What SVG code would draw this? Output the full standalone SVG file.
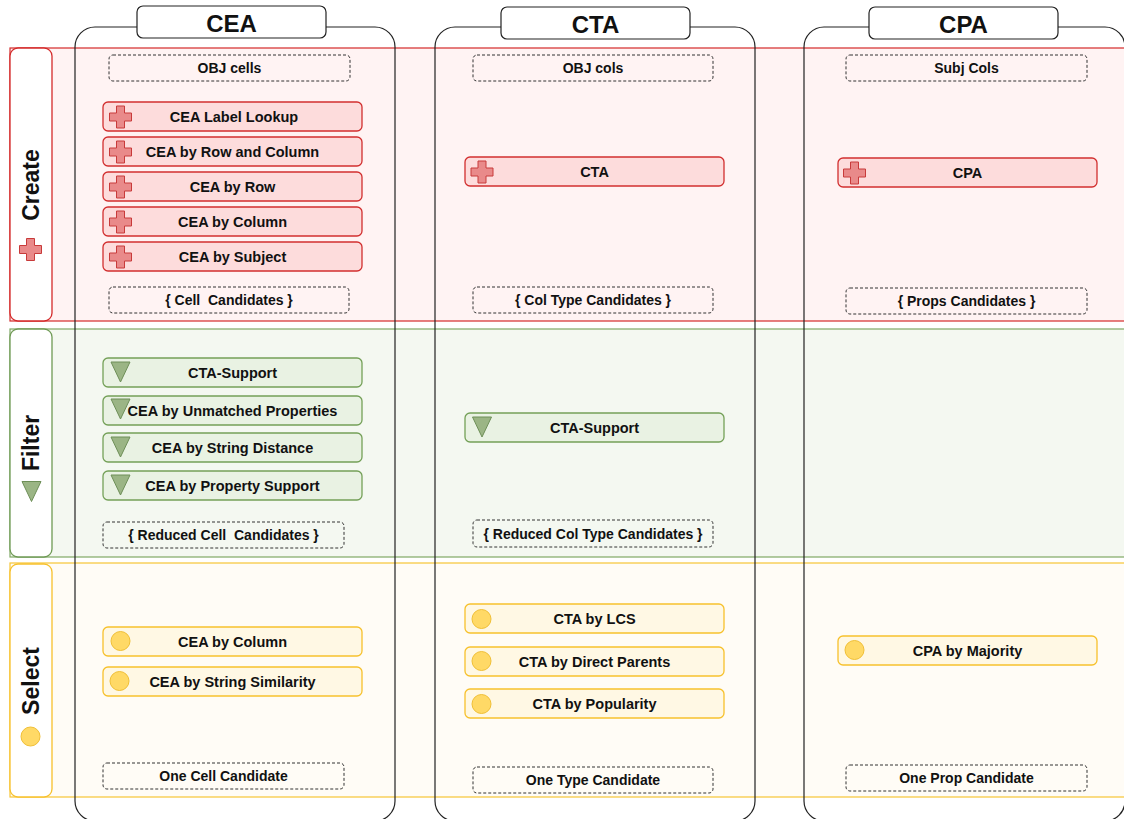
<svg xmlns="http://www.w3.org/2000/svg" xmlns:xlink="http://www.w3.org/1999/xlink" width="1124" height="819" viewBox="0 0 1124 819">
<style>
text{font-family:"Liberation Sans",Arial,sans-serif;font-weight:bold;fill:#111;text-anchor:middle;dominant-baseline:central}
.hdr{font-size:24px}
.lane{font-size:23px}
.m{font-size:14.5px}
.d{font-size:14px}
.col{fill:none;stroke:#222;stroke-width:1.2}
.hbox{fill:#fff;stroke:#222;stroke-width:1.2}
.dash{fill:none;stroke:#333;stroke-width:1;stroke-dasharray:3 2}
.red{fill:#fddcdc;stroke:#d22f2f;stroke-width:1.3}
.grn{fill:#e9f2e3;stroke:#74a058;stroke-width:1.3}
.yel{fill:#fff8e4;stroke:#f7c12c;stroke-width:1.3}
.iplus{fill:#e98a8a;stroke:#c83a3a;stroke-width:1}
.itri{fill:#9bb585;stroke:#6e8f58;stroke-width:1}
.icir{fill:#ffd966;stroke:#f0bf36;stroke-width:1}
</style>
<defs>
<path id="plus" d="M-4,-11 H4 V-4 H11 V4 H4 V11 H-4 V4 H-11 V-4 H-4 Z"/>
<path id="tri" d="M-9.5,-10 L9.5,-10 L0,10 Z"/>
<circle id="cir" r="9.5"/>
</defs>
<rect width="1124" height="819" fill="#fff"/>

<!-- lanes -->
<g id="lane-create">
<rect x="10" y="48" width="1124" height="273" fill="#fff3f3" stroke="#d42a2a" stroke-width="1.2"/>
<rect x="10" y="48" width="42" height="273" rx="8" fill="#fff" stroke="#d42a2a" stroke-width="1.3"/>
<text class="lane" transform="translate(31,185) rotate(-90)">Create</text>
<use href="#plus" x="30.5" y="249.5" class="iplus"/>
</g>
<g id="lane-filter">
<rect x="10" y="329" width="1124" height="228" fill="#f4f8f1" stroke="#7fa865" stroke-width="1.2"/>
<rect x="10" y="329" width="42" height="228" rx="8" fill="#fff" stroke="#6f9a55" stroke-width="1.3"/>
<text class="lane" transform="translate(31,443) rotate(-90)">Filter</text>
<use href="#tri" x="31.5" y="491.5" class="itri"/>
</g>
<g id="lane-select">
<rect x="10" y="563" width="1124" height="234" fill="#fffcf6" stroke="#f7c535" stroke-width="1.2"/>
<rect x="10" y="564" width="42" height="233" rx="8" fill="#fff" stroke="#f7c12c" stroke-width="1.3"/>
<text class="lane" transform="translate(31,681) rotate(-90)">Select</text>
<use href="#cir" x="30.5" y="736.5" class="icir"/>
</g>

<!-- columns -->
<g id="col-cea">
<rect class="col" x="75" y="27" width="320" height="794" rx="20"/>
<rect class="hbox" x="137" y="6" width="189" height="32" rx="6"/>
<text class="hdr" x="231.5" y="23">CEA</text>
</g>
<g id="col-cta">
<rect class="col" x="435" y="27" width="320" height="794" rx="20"/>
<rect class="hbox" x="501" y="7" width="189" height="32" rx="6"/>
<text class="hdr" x="595.5" y="24">CTA</text>
</g>
<g id="col-cpa">
<rect class="col" x="804" y="27" width="321" height="794" rx="20"/>
<rect class="hbox" x="869" y="7" width="189" height="32" rx="6"/>
<text class="hdr" x="963.5" y="24">CPA</text>
</g>

<!-- CEA nodes -->
<g id="cea-in"><rect class="dash" x="109" y="55" width="241" height="26" rx="4"/><text class="d" x="229.5" y="68">OBJ cells</text></g>
<g id="cea-c1"><rect class="red" x="103" y="102" width="259" height="29" rx="5"/><use href="#plus" x="120.5" y="117" class="iplus"/><text class="m" x="234" y="116.5">CEA Label Lookup</text></g>
<g id="cea-c2"><rect class="red" x="103" y="137" width="259" height="29" rx="5"/><use href="#plus" x="120.5" y="152" class="iplus"/><text class="m" x="232.5" y="151.5">CEA by Row and Column</text></g>
<g id="cea-c3"><rect class="red" x="103" y="172" width="259" height="29" rx="5"/><use href="#plus" x="120.5" y="187" class="iplus"/><text class="m" x="232.5" y="187">CEA by Row</text></g>
<g id="cea-c4"><rect class="red" x="103" y="207" width="259" height="29" rx="5"/><use href="#plus" x="120.5" y="222" class="iplus"/><text class="m" x="232.5" y="222">CEA by Column</text></g>
<g id="cea-c5"><rect class="red" x="103" y="242" width="259" height="29" rx="5"/><use href="#plus" x="120.5" y="257" class="iplus"/><text class="m" x="232.5" y="257">CEA by Subject</text></g>
<g id="cea-cand"><rect class="dash" x="109" y="287" width="240" height="26" rx="4"/><text class="d" x="229" y="300">{ Cell&#160; Candidates }</text></g>

<g id="cea-f1"><rect class="grn" x="103" y="358" width="259" height="29" rx="5"/><use href="#tri" x="120.5" y="372" class="itri"/><text class="m" x="232.5" y="372.5">CTA-Support</text></g>
<g id="cea-f2"><rect class="grn" x="103" y="396" width="259" height="29" rx="5"/><use href="#tri" x="120.5" y="409" class="itri"/><text class="m" x="232.5" y="410.5">CEA by Unmatched Properties</text></g>
<g id="cea-f3"><rect class="grn" x="103" y="433" width="259" height="29" rx="5"/><use href="#tri" x="120.5" y="447" class="itri"/><text class="m" x="232.5" y="448">CEA by String Distance</text></g>
<g id="cea-f4"><rect class="grn" x="103" y="471" width="259" height="29" rx="5"/><use href="#tri" x="120.5" y="485" class="itri"/><text class="m" x="232.5" y="485.5">CEA by Property Support</text></g>
<g id="cea-red"><rect class="dash" x="103" y="522" width="241" height="26" rx="4"/><text class="d" x="223.5" y="535">{ Reduced Cell&#160; Candidates }</text></g>

<g id="cea-s1"><rect class="yel" x="103" y="627" width="259" height="29" rx="5"/><use href="#cir" x="120.5" y="641" class="icir"/><text class="m" x="232.5" y="641.5">CEA by Column</text></g>
<g id="cea-s2"><rect class="yel" x="103" y="667" width="259" height="29" rx="5"/><use href="#cir" x="119.5" y="681" class="icir"/><text class="m" x="232.5" y="681.5">CEA by String Similarity</text></g>
<g id="cea-out"><rect class="dash" x="103" y="763" width="241" height="26" rx="4"/><text class="d" x="223.5" y="776">One Cell Candidate</text></g>

<!-- CTA nodes -->
<g id="cta-in"><rect class="dash" x="473" y="55" width="240" height="26" rx="4"/><text class="d" x="593" y="68">OBJ cols</text></g>
<g id="cta-c1"><rect class="red" x="465" y="157" width="259" height="29" rx="5"/><use href="#plus" x="482" y="172" class="iplus"/><text class="m" x="594.5" y="172">CTA</text></g>
<g id="cta-cand"><rect class="dash" x="473" y="287" width="240" height="26" rx="4"/><text class="d" x="593" y="300">{ Col Type Candidates }</text></g>
<g id="cta-f1"><rect class="grn" x="465" y="413" width="259" height="29" rx="5"/><use href="#tri" x="482" y="427" class="itri"/><text class="m" x="594.5" y="428">CTA-Support</text></g>
<g id="cta-red"><rect class="dash" x="473" y="520" width="240" height="27" rx="4"/><text class="d" x="593" y="533.5">{ Reduced Col Type Candidates }</text></g>
<g id="cta-s1"><rect class="yel" x="465" y="604" width="259" height="29" rx="5"/><use href="#cir" x="481.5" y="619" class="icir"/><text class="m" x="594.5" y="619">CTA by LCS</text></g>
<g id="cta-s2"><rect class="yel" x="465" y="647" width="259" height="29" rx="5"/><use href="#cir" x="481.5" y="661" class="icir"/><text class="m" x="594.5" y="661.5">CTA by Direct Parents</text></g>
<g id="cta-s3"><rect class="yel" x="465" y="689" width="259" height="29" rx="5"/><use href="#cir" x="481.5" y="704" class="icir"/><text class="m" x="594.5" y="704">CTA by Popularity</text></g>
<g id="cta-out"><rect class="dash" x="473" y="767" width="240" height="26" rx="4"/><text class="d" x="593" y="780">One Type Candidate</text></g>

<!-- CPA nodes -->
<g id="cpa-in"><rect class="dash" x="846" y="55" width="241" height="26" rx="4"/><text class="d" x="966.5" y="68">Subj Cols</text></g>
<g id="cpa-c1"><rect class="red" x="838" y="158" width="259" height="29" rx="5"/><use href="#plus" x="854.5" y="173" class="iplus"/><text class="m" x="967.5" y="173">CPA</text></g>
<g id="cpa-cand"><rect class="dash" x="846" y="288" width="241" height="26" rx="4"/><text class="d" x="966.5" y="301">{ Props Candidates }</text></g>
<g id="cpa-s1"><rect class="yel" x="838" y="636" width="259" height="29" rx="5"/><use href="#cir" x="854.5" y="650" class="icir"/><text class="m" x="967.5" y="650.5">CPA by Majority</text></g>
<g id="cpa-out"><rect class="dash" x="846" y="765" width="241" height="26" rx="4"/><text class="d" x="966.5" y="778">One Prop Candidate</text></g>

<g id="connectors"></g>
</svg>
